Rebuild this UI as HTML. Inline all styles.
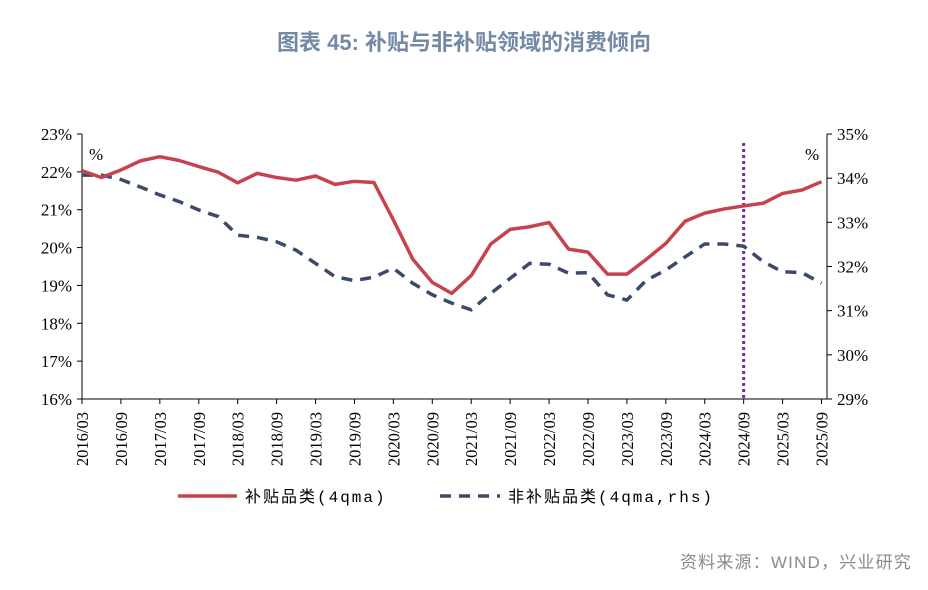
<!DOCTYPE html>
<html><head><meta charset="utf-8"><style>
body{margin:0;background:#fff;width:928px;height:590px;overflow:hidden}
svg{display:block}
</style></head><body>
<svg id="chart" width="928" height="590" xmlns="http://www.w3.org/2000/svg">
<text x="464" y="50" text-anchor="middle" font-family="'Liberation Sans','Noto Sans CJK SC',sans-serif" font-size="22" font-weight="bold" fill="#7389a6">图表 45: 补贴与非补贴领域的消费倾向</text>
<g id="axes"></g>
<g id="marks"></g>
<g>
<line x1="178" y1="496" x2="237" y2="496" stroke="#c8414f" stroke-width="3.5"/>
<text x="245" y="502" font-family="'Liberation Mono','Noto Sans CJK SC',monospace" font-size="16" letter-spacing="2" fill="#000">补贴品类(4qma)</text>
<line x1="440" y1="496" x2="500" y2="496" stroke="#3b4a6b" stroke-width="3.5" stroke-dasharray="11,8"/>
<text x="508" y="502" font-family="'Liberation Mono','Noto Sans CJK SC',monospace" font-size="16" letter-spacing="2" fill="#000">非补贴品类(4qma,rhs)</text>
</g>
<text x="912" y="568" text-anchor="end" font-family="'Liberation Sans','Noto Sans CJK SC',sans-serif" font-size="17" letter-spacing="1.2" fill="#8a8a8a">资料来源：WIND，兴业研究</text>
</svg>
<script>
const categories=["2016/03","2016/06","2016/09","2016/12","2017/03","2017/06","2017/09","2017/12","2018/03","2018/06","2018/09","2018/12","2019/03","2019/06","2019/09","2019/12","2020/03","2020/06","2020/09","2020/12","2021/03","2021/06","2021/09","2021/12","2022/03","2022/06","2022/09","2022/12","2023/03","2023/06","2023/09","2023/12","2024/03","2024/06","2024/09","2024/12","2025/03","2025/06","2025/09"];
const subsidyValues=[22.03,21.85,22.05,22.29,22.40,22.30,22.14,21.99,21.71,21.96,21.85,21.78,21.89,21.67,21.75,21.72,20.73,19.69,19.08,18.79,19.26,20.09,20.48,20.55,20.66,19.96,19.88,19.30,19.30,19.69,20.11,20.70,20.91,21.02,21.10,21.17,21.43,21.52,21.74];
const nonSubsidyValues=[34.07,34.07,33.97,33.80,33.62,33.47,33.28,33.13,32.71,32.66,32.56,32.37,32.07,31.77,31.68,31.76,31.96,31.62,31.36,31.17,31.02,31.39,31.73,32.07,32.05,31.85,31.86,31.36,31.24,31.69,31.92,32.22,32.51,32.51,32.46,32.11,31.88,31.86,31.62];
const leftTicks=[16,17,18,19,20,21,22,23];
const rightTicks=[29,30,31,32,33,34,35];
const markerCategory="2024/09";
const NS="http://www.w3.org/2000/svg";
const X0=82,X1=821.5,Y0=399,Y1=134,AXL=82,AXR=827;
function xPos(i){return X0+i*(X1-X0)/(categories.length-1);}
function yL(v){return Y0-(v-16)/(23-16)*(Y0-Y1);}
function yR(v){return Y0-(v-29)/(35-29)*(Y0-Y1);}
function mk(tag,attrs,parent){const e=document.createElementNS(NS,tag);for(const k in attrs)e.setAttribute(k,attrs[k]);parent.appendChild(e);return e;}
const axes=document.getElementById('axes'),marks=document.getElementById('marks');
const serif="'Liberation Serif',serif";
let a=mk('line',{x1:AXL,y1:Y1,x2:AXL,y2:Y0,stroke:'#000','stroke-width':1},axes);


a=mk('line',{x1:AXR,y1:Y1,x2:AXR,y2:Y0,stroke:'#000','stroke-width':1},axes);


a=mk('line',{x1:AXL,y1:Y0,x2:AXR,y2:Y0,stroke:'#000','stroke-width':1},axes);


leftTicks.forEach(v=>{const y=yL(v);mk('line',{x1:AXL-5,y1:y,x2:AXL,y2:y,stroke:'#000'},axes);
const t=mk('text',{x:AXL-10,y:y+6,'text-anchor':'end','font-family':serif,'font-size':17},axes);t.textContent=v+'%';

});
rightTicks.forEach(v=>{const y=yR(v);mk('line',{x1:AXR,y1:y,x2:AXR+5,y2:y,stroke:'#000'},axes);
const t=mk('text',{x:AXR+10,y:y+6,'font-family':serif,'font-size':17},axes);t.textContent=v+'%';

});
categories.forEach((c,i)=>{if(i%2)return;const x=xPos(i);mk('line',{x1:x,y1:Y0,x2:x,y2:Y0+5,stroke:'#000'},axes);
const t=mk('text',{x:0,y:0,transform:`translate(${x+6},412) rotate(-90)`,'text-anchor':'end','font-family':serif,'font-size':16.5},axes);t.textContent=c;

});
let p=mk('text',{x:89,y:160,'font-family':serif,'font-size':17,fill:'#000'},axes);p.textContent='%';


p=mk('text',{x:805,y:160,'font-family':serif,'font-size':17,fill:'#000'},axes);p.textContent='%';


const mi=categories.indexOf(markerCategory);
const vl=mk('line',{x1:xPos(mi),y1:143,x2:xPos(mi),y2:Y0,stroke:'#7030a0','stroke-width':3,'stroke-dasharray':'3,3'},marks);


const l2=mk('polyline',{points:nonSubsidyValues.map((v,i)=>xPos(i)+','+yR(v)).join(' '),fill:'none',stroke:'#3b4a6b','stroke-width':3.5,'stroke-dasharray':'11,8'},marks);


const l1=mk('polyline',{points:subsidyValues.map((v,i)=>xPos(i)+','+yL(v)).join(' '),fill:'none',stroke:'#c8414f','stroke-width':3.5,'stroke-linejoin':'round'},marks);


</script>
</body></html>
